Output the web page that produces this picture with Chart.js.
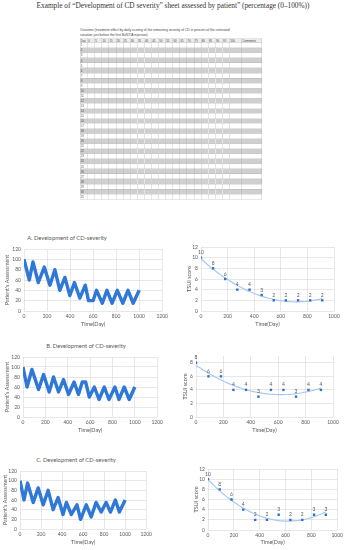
<!DOCTYPE html>
<html>
<head>
<meta charset="utf-8">
<script src="https://cdn.jsdelivr.net/npm/chart.js@4.4.0/dist/chart.umd.min.js"></script>
<style>
body { margin: 0; width: 346px; height: 550px; background: #fff; position: relative; overflow: hidden; font-family: Lato, sans-serif; }
.box { position: absolute; }
.ttl { position: absolute; font-size: 5.8px; color: #595959; white-space: nowrap; transform: translate(-50%, -50%); }
#head { position: absolute; left: 0; top: 1px; width: 346px; text-align: center; font-family: 'Liberation Serif', serif; font-size: 7.3px; color: #333; }
/* sheet is laid out at 4x and scaled down, tiny text otherwise hits the minimum font size */
#sheet { position: absolute; left: 80px; top: 28px; width: 728px; font-family: 'Liberation Sans', sans-serif; color: #444; transform: scale(0.25); transform-origin: 0 0; }
#sheet .cap { font-size: 13.4px; line-height: 18.4px; margin-bottom: 4px; white-space: nowrap; }
#sheet table { border-collapse: collapse; table-layout: fixed; width: 728px; font-size: 11px; }
#sheet td { border: 1.6px solid #9a9a9a; padding: 0 2px; height: 20.2px; line-height: 12px; overflow: hidden; white-space: nowrap; box-sizing: border-box; }
#sheet tr.hd td { background: #ececec; height: 17.6px; }
#sheet tr.sh td { background: #cfcfcf; }
</style>
</head>
<body>
<div id="head">Example of “Development of CD severity” sheet assessed by patient” (percentage (0–100%))</div>
<div id="sheet">
  <div class="cap">Outcome (treatment effect by daily scoring of the remaining severity of CD in percent of the untreated<br>situation just before the first BoNT/A injection)</div>
  <table id="grid"></table>
</div>

<div class="ttl" style="left:67px;top:237px">A. Development of CD-severity</div>
<div class="ttl" style="left:86px;top:345px">B. Development of CD-severity</div>
<div class="ttl" style="left:76px;top:459px">C. Development of CD-severity</div>

<script>
// sheet columns
const scoreCols = ['0', '5', '10', '15', '20', '25', '30', '35', '40', '45', '50', '55', '60', '65', '70', '75', '80', '85', '90', '95', '100'];
const sheetDays = 31;

// patient's daily assessment (turning points)
const patDaysA = [0, 46, 78, 124, 176, 225, 268, 311, 355, 398, 438, 485, 532, 560, 600, 630, 680, 720, 765, 810, 858, 903, 948, 1000];
const patA     = [100, 60, 95, 55, 85, 50, 80, 40, 65, 30, 55, 25, 50, 20, 20, 40, 15, 40, 15, 40, 15, 40, 15, 40];

const patDaysB = [0, 36, 80, 139, 184, 234, 273, 318, 362, 407, 457, 496, 530, 560, 593, 638, 680, 727, 769, 822, 858, 905, 950, 1000];
const patB     = [100, 60, 95, 55, 85, 50, 80, 50, 75, 45, 70, 45, 70, 70, 40, 60, 35, 60, 35, 60, 35, 60, 35, 60];

const patDaysC = [0, 38, 72, 126, 173, 220, 268, 315, 362, 409, 441, 488, 542, 576, 630, 677, 724, 772, 819, 860, 907, 945, 1000];
const patC     = [100, 60, 95, 55, 85, 50, 80, 40, 65, 30, 55, 30, 50, 20, 50, 25, 55, 35, 55, 35, 60, 35, 60];

// TSUI score every 3 months
const tsuiDays = [0, 91, 182, 273, 365, 456, 547, 638, 730, 821, 912];
const tsuiA = [10, 8, 6, 4, 4, 3, 2, 2, 2, 2, 2];
const tsuiB = [8, 6, 6, 4, 4, 3, 4, 4, 3, 4, 4];
const tsuiC = [10, 8, 6, 4, 2, 2, 3, 2, 2, 3, 3];

const BLUE = '#2a72d3';
const TREND = '#a9c9ee';
const GRID = '#dcdcdc';
const TXT = '#595959';

// build the sheet table
(function buildSheet() {
    const t = document.getElementById('grid');
    let cg = '<colgroup><col style="width:30px">';
    scoreCols.forEach((c, i) => { cg += `<col style="width:${i === 20 ? 49.6 : 28.4}px">`; });
    cg += '<col style="width:80px"></colgroup>';
    let html = cg + '<tr class="hd"><td>Day</td>' + scoreCols.map(c => `<td>${c}</td>`).join('') + '<td>Comments</td></tr>';
    for (let d = 1; d <= sheetDays; d++) {
        html += `<tr class="${d % 2 === 0 ? 'sh' : ''}"><td>${d}</td>` + scoreCols.map(() => '<td></td>').join('') + '<td></td></tr>';
    }
    t.innerHTML = html;
})();

// least squares quadratic, like the Excel polynomial trendline
function quadFit(xs, ys) {
    let s = [0, 0, 0, 0, 0], t = [0, 0, 0];
    xs.forEach((x, i) => {
        let p = 1;
        for (let k = 0; k < 5; k++) { s[k] += p; if (k < 3) t[k] += p * ys[i]; p *= x; }
    });
    const M = [[s[0], s[1], s[2], t[0]], [s[1], s[2], s[3], t[1]], [s[2], s[3], s[4], t[2]]];
    for (let i = 0; i < 3; i++) {
        for (let j = i + 1; j < 3; j++) {
            const f = M[j][i] / M[i][i];
            for (let k = i; k < 4; k++) M[j][k] -= f * M[i][k];
        }
    }
    const c = [0, 0, 0];
    for (let i = 2; i >= 0; i--) {
        let v = M[i][3];
        for (let k = i + 1; k < 3; k++) v -= M[i][k] * c[k];
        c[i] = v / M[i][i];
    }
    return x => c[0] + c[1] * x + c[2] * x * x;
}

const valueLabels = {
    id: 'valueLabels',
    afterDatasetsDraw(chart, args, opts) {
        if (!opts.on) return;
        const ctx = chart.ctx;
        const meta = chart.getDatasetMeta(0);
        ctx.save();
        ctx.font = '5px Lato';
        ctx.fillStyle = TXT;
        ctx.textAlign = 'center';
        ctx.textBaseline = 'bottom';
        meta.data.forEach((pt, i) => {
            ctx.fillText(String(chart.data.datasets[0].data[i].y), pt.x, pt.y - 2.5);
        });
        ctx.restore();
    }
};

const tickFont = { family: 'Lato', size: 5 };
const titleFont = { family: 'Lato', size: 5.5 };

function place(r) {
    const div = document.createElement('div');
    div.className = 'box';
    const w = r.r - r.l + r.yW + r.pR;
    const h = r.b - r.t + r.pT + r.xH;
    div.style.left = (r.l - r.yW) + 'px';
    div.style.top = (r.t - r.pT) + 'px';
    div.style.width = w + 'px';
    div.style.height = h + 'px';
    const cv = document.createElement('canvas');
    cv.width = w; cv.height = h;
    div.appendChild(cv);
    document.body.appendChild(div);
    return cv;
}

function axes(r, xMax, yMax, yStep, yTitle) {
    return {
        x: {
            type: 'linear', min: 0, max: xMax,
            ticks: { stepSize: 200, font: tickFont, color: TXT, padding: 2, maxRotation: 0, callback: v => String(v) },
            grid: { color: GRID, lineWidth: 0.7, drawTicks: false },
            border: { display: false },
            title: { display: true, text: 'Time(Day)', font: titleFont, color: TXT, padding: { top: 0, bottom: 2 } },
            afterFit: s => { s.height = r.xH; }
        },
        y: {
            min: 0, max: yMax,
            ticks: { stepSize: yStep, font: tickFont, color: TXT, padding: 3 },
            grid: { color: GRID, lineWidth: 0.7, drawTicks: false },
            border: { display: false },
            title: { display: true, text: yTitle, font: titleFont, color: TXT, padding: { top: r.tp || 0, bottom: 0 } },
            afterFit: s => { s.width = r.yW; }
        }
    };
}

function patientChart(r, days, vals) {
    const cv = place(r);
    return new Chart(cv, {
        type: 'line',
        data: {
            datasets: [{
                data: days.map((d, i) => ({ x: d, y: vals[i] })),
                borderColor: '#2f78d8',
                borderWidth: 3.4,
                borderJoinStyle: 'round',
                pointRadius: 0,
                tension: 0,
                fill: false
            }]
        },
        options: {
            responsive: false,
            animation: false,
            layout: { padding: { top: r.pT, right: r.pR, left: 0, bottom: 0 } },
            plugins: { legend: { display: false }, tooltip: { enabled: false }, valueLabels: { on: false } },
            scales: axes(r, 1200, 120, 20, "Patient's Assessment")
        },
        plugins: [valueLabels]
    });
}

function tsuiChart(r, vals, yMax, yStep) {
    const cv = place(r);
    const f = quadFit(tsuiDays, vals);
    const trend = [];
    for (let i = 0; i <= 40; i++) {
        const x = tsuiDays[tsuiDays.length - 1] * i / 40;
        trend.push({ x: x, y: f(x) });
    }
    return new Chart(cv, {
        type: 'scatter',
        data: {
            datasets: [{
                data: tsuiDays.map((d, i) => ({ x: d, y: vals[i] })),
                pointStyle: 'rect',
                pointRadius: 1.7,
                backgroundColor: BLUE,
                borderWidth: 0,
                order: 0
            }, {
                type: 'line',
                data: trend,
                borderColor: TREND,
                borderWidth: 1.2,
                pointRadius: 0,
                tension: 0.3,
                order: 1
            }]
        },
        options: {
            responsive: false,
            animation: false,
            layout: { padding: { top: r.pT, right: r.pR, left: 0, bottom: 0 } },
            plugins: { legend: { display: false }, tooltip: { enabled: false }, valueLabels: { on: true } },
            scales: axes(r, 1000, yMax, yStep, 'TSUI score')
        },
        plugins: [valueLabels]
    });
}

patientChart({ l: 24, t: 247, r: 163, b: 311, yW: 24, xH: 19, pT: 4, pR: 7, tp: 4 }, patDaysA, patA);
tsuiChart({ l: 201, t: 245, r: 334, b: 311, yW: 16, xH: 19, pT: 4, pR: 8, tp: 1 }, tsuiA, 12, 2);

patientChart({ l: 23, t: 355, r: 158, b: 417, yW: 23, xH: 19, pT: 4, pR: 7, tp: 4 }, patDaysB, patB);
tsuiChart({ l: 196, t: 353.5, r: 333, b: 417, yW: 14, xH: 19, pT: 4, pR: 9, tp: 0 }, tsuiB, 9, 1);

patientChart({ l: 20, t: 468.5, r: 147, b: 529, yW: 20, xH: 19, pT: 4, pR: 7, tp: 2 }, patDaysC, patC);
tsuiChart({ l: 208, t: 467, r: 339, b: 530, yW: 16, xH: 18, pT: 4, pR: 6, tp: 1 }, tsuiC, 12, 2);
</script>
</body>
</html>
